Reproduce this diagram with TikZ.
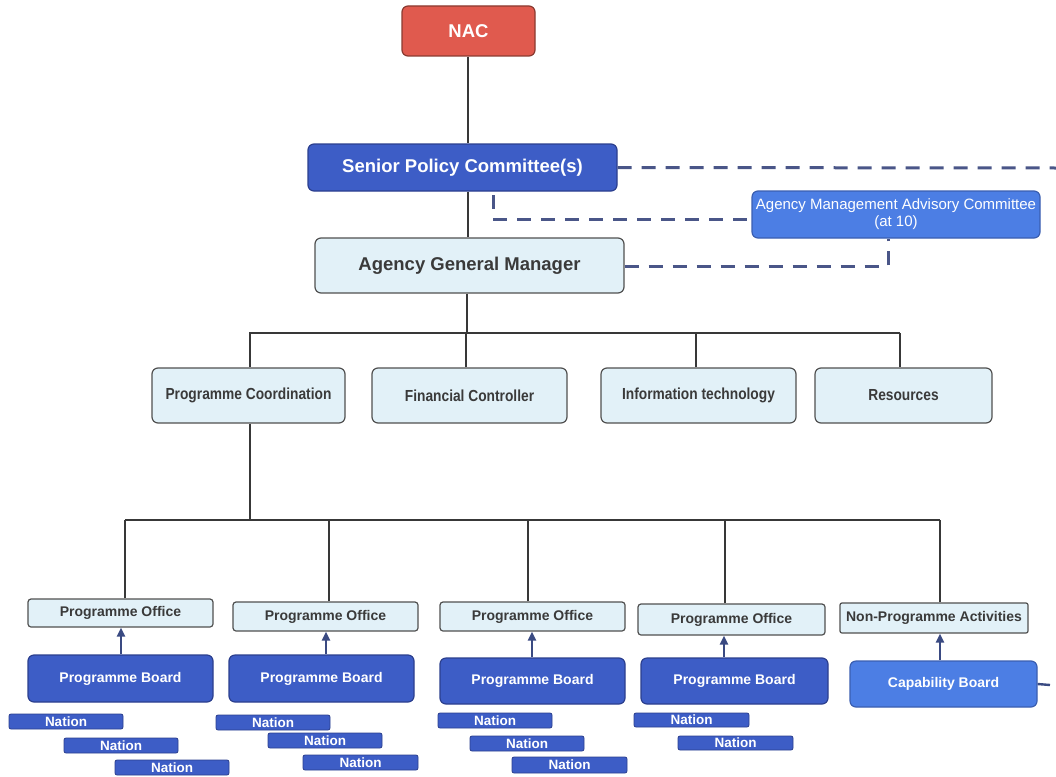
\documentclass[tikz,border=0pt]{standalone}
\usepackage{fontspec}
\setmainfont{Liberation Sans}
\newfontfamily\narrowf[FakeStretch=0.86]{Liberation Sans}
\usetikzlibrary{arrows.meta}
\definecolor{nacred}{HTML}{E05A4E}
\definecolor{nacedge}{HTML}{8A3A30}
\definecolor{dblue}{HTML}{3D5DC6}
\definecolor{dedge}{HTML}{2B3F8E}
\definecolor{mblue}{HTML}{4C7EE4}
\definecolor{medge}{HTML}{3A5EB0}
\definecolor{lblue}{HTML}{E2F1F8}
\definecolor{ledge}{HTML}{505050}
\definecolor{linec}{HTML}{383838}
\definecolor{dashc}{HTML}{4A5688}
\definecolor{arrc}{HTML}{3A4A82}
\definecolor{darktext}{HTML}{3A3A3A}
\tikzset{
  x=1pt,y=-1pt,
  base/.style={rounded corners=6pt,inner sep=0pt,line width=1.2pt,align=center,font=\bfseries},
  redbox/.style={base,fill=nacred,draw=nacedge,text=white},
  darkbox/.style={base,fill=dblue,draw=dedge,text=white},
  midbox/.style={base,fill=mblue,draw=medge,text=white},
  lightbox/.style={base,fill=lblue,draw=ledge,text=darktext},
  nationbox/.style={base,rounded corners=2pt,fill=dblue,draw=dedge,text=white,line width=0.8pt},
  conn/.style={draw=linec,line width=2.4pt},
  dashline/.style={draw=dashc,line width=3pt,dash pattern=on 14pt off 10pt},
  uparrow/.style={draw=arrc,line width=2.6pt,-{Triangle[length=9pt,width=8pt]}},
  bigfont/.style={font=\bfseries\fontsize{18.5}{21}\selectfont},
  rowfont/.style={font=\narrowf\bfseries\fontsize{16}{18}\selectfont},
  offfont/.style={font=\bfseries\fontsize{14}{16}\selectfont},
  natfont/.style={font=\bfseries\fontsize{13.5}{15}\selectfont},
}
\newcommand\mybox[7]{\node[#1,minimum width={(#4-#2)*1pt},minimum height={(#5-#3)*1pt}] (#6) at ({(#2+#4)/2},{(#3+#5)/2}) {#7};}
\begin{document}
\begin{tikzpicture}
\useasboundingbox (0,0) rectangle (1056,776);
% top
\mybox{redbox,bigfont}{402}{6}{535}{56}{nac}{NAC}
\mybox{darkbox,bigfont}{308}{144}{617}{191}{spc}{Senior Policy Committee(s)}
\mybox{midbox,font=\fontsize{15}{17}\selectfont}{752}{191}{1040}{238}{amac}{Agency Management Advisory Committee\\(at 10)}
\mybox{lightbox,bigfont}{315}{238}{624}{293}{agm}{Agency General Manager}
% second row
\mybox{lightbox,rowfont}{152}{368}{345}{423}{pc}{Programme Coordination}
\mybox{lightbox,rowfont}{372}{368}{567}{423}{fc}{Financial Controller}
\mybox{lightbox,rowfont}{601}{368}{796}{423}{it}{Information technology}
\mybox{lightbox,rowfont}{815}{368}{992}{423}{res}{Resources}
% offices
\mybox{lightbox,offfont,rounded corners=3pt}{28}{599}{213}{627}{po1}{Programme Office}
\mybox{lightbox,offfont,rounded corners=3pt}{233}{602}{418}{631}{po2}{Programme Office}
\mybox{lightbox,offfont,rounded corners=3pt}{440}{602}{625}{631}{po3}{Programme Office}
\mybox{lightbox,offfont,rounded corners=3pt}{638}{604}{825}{635}{po4}{Programme Office}
\mybox{lightbox,offfont,rounded corners=2pt}{840}{603}{1028}{633}{npa}{Non-Programme Activities}
% boards
\mybox{darkbox,offfont}{28}{655}{213}{702}{pb1}{Programme Board}
\mybox{darkbox,offfont}{229}{655}{414}{702}{pb2}{Programme Board}
\mybox{darkbox,offfont}{440}{658}{625}{704}{pb3}{Programme Board}
\mybox{darkbox,offfont}{641}{658}{828}{704}{pb4}{Programme Board}
\mybox{midbox,offfont}{850}{661}{1037}{707}{cb}{Capability Board}
% nations
\mybox{nationbox,natfont}{9}{714}{123}{729}{n11}{Nation}
\mybox{nationbox,natfont}{64}{738}{178}{753}{n12}{Nation}
\mybox{nationbox,natfont}{115}{760}{229}{775}{n13}{Nation}
\mybox{nationbox,natfont}{216}{715}{330}{730}{n21}{Nation}
\mybox{nationbox,natfont}{268}{733}{382}{748}{n22}{Nation}
\mybox{nationbox,natfont}{303}{755}{418}{770}{n23}{Nation}
\mybox{nationbox,natfont}{438}{713}{552}{728}{n31}{Nation}
\mybox{nationbox,natfont}{470}{736}{584}{751}{n32}{Nation}
\mybox{nationbox,natfont}{512}{757}{627}{773}{n33}{Nation}
\mybox{nationbox,natfont}{634}{713}{749}{727}{n41}{Nation}
\mybox{nationbox,natfont}{678}{736}{793}{750}{n42}{Nation}
% connectors
\coordinate (b1) at (467,333);
\coordinate (b2) at (250,520);
\coordinate (capend) at (1050,685);
\coordinate (dashend) at (1056,168);
\draw[conn] (nac.south -| 468,0) -- (spc.north -| 468,0);
\draw[conn] (spc.south -| 468,0) -- (agm.north -| 468,0);
\draw[conn] (agm.south -| b1) -- (b1);
\draw[conn] (250,333) -- (900,333);
\draw[conn] (pc.north -| 250,0) |- (b1);
\draw[conn] (fc.north -| 466,0) -- (466,333);
\draw[conn] (it.north -| 696,0) -- (696,333);
\draw[conn] (res.north -| 900,0) -- (900,333);
\draw[conn] (pc.south -| b2) -- (b2);
\draw[conn] (125,520) -- (940,520);
\draw[conn] (po1.north -| 125,0) -- (125,520);
\draw[conn] (po2.north -| 329,0) -- (329,520);
\draw[conn] (po3.north -| 528,0) -- (528,520);
\draw[conn] (po4.north -| 725,0) -- (725,520);
\draw[conn] (npa.north -| 940,0) -- (940,520);
% arrows
\draw[uparrow] (pb1.north -| 121,0) -- (po1.south -| 121,0);
\draw[uparrow] (pb2.north -| 326,0) -- (po2.south -| 326,0);
\draw[uparrow] (pb3.north -| 532,0) -- (po3.south -| 532,0);
\draw[uparrow] (pb4.north -| 724,0) -- (po4.south -| 724,0);
\draw[uparrow] (cb.north -| 940,0) -- (npa.south -| 940,0);
\draw[draw=arrc,line width=2.4pt] (cb.east) -- (capend);
% dashed
\draw[dashline] (spc.east) -- (dashend);
\draw[dashline] (493,195) -- (493,219) -- (amac.west |- 0,219);
\draw[dashline] (agm.east |- 0,266) -- (888,266) -- (amac.south -| 888,0);
\end{tikzpicture}
\end{document}
